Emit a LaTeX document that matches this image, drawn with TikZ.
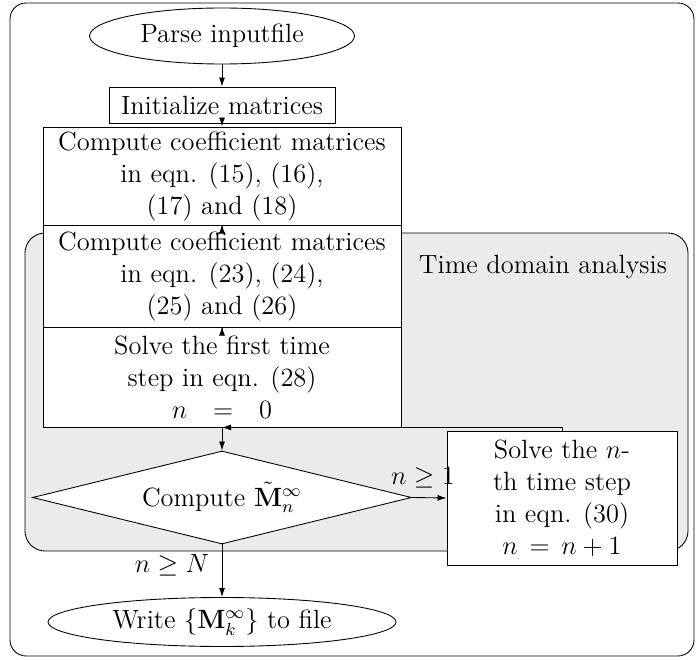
\RequirePackage{fix-cm}
\documentclass[tikz,border=0pt]{standalone}
\usepackage{amsmath,amssymb}
\usetikzlibrary{shapes.geometric,arrows.meta}
\begin{document}
\begin{tikzpicture}[x=1pt,y=-1pt]
\useasboundingbox (0,0) rectangle (696,660);
% the chart is laid out at 12pt and enlarged as a whole by 2.2
\begin{scope}[transform canvas={scale=2.2}, x=0.454545pt, y=-0.454545pt,
  every node/.style={font=\fontsize{12}{14.5}\selectfont, inner sep=0pt},
  box/.style={draw, fill=white, line width=0.4pt, align=center},
  term/.style={draw, ellipse, fill=white, line width=0.4pt},
  link/.style={-{Latex[length=4.1pt,width=2.7pt]}, line width=0.4pt}]
% outer frame and shaded loop region
\draw[line width=0.4pt, rounded corners=7.3pt] (10,3) rectangle (694,656);
\draw[line width=0.4pt, rounded corners=9.1pt, fill=black!8] (25,233) rectangle (688,551);
\node (tda) at (543,267) {Time domain analysis};

% flow nodes
\node[term, minimum width=120.45pt, minimum height=25.45pt] (parse) at (222,36) {Parse inputfile};
\node[box, minimum width=102.73pt, minimum height=16.36pt] (init) at (222,105) {Initialize matrices};
\node[box, minimum width=162.73pt, minimum height=45pt] (c1) at (222,176.5)
  {Compute coefficient matrices\\ in eqn. (15), (16),\\ (17) and (18)};
\node[box, minimum width=162.73pt, minimum height=46.82pt] (c2) at (222,276.5)
  {Compute coefficient matrices\\ in eqn. (23), (24),\\ (25) and (26)};
\node[box, minimum width=162.73pt, minimum height=45.45pt] (s1) at (222,377)
  {Solve the first time\\ step in eqn. (28)\\ $n\hspace{0.7em}=\hspace{0.7em}0$};
\node[draw, diamond, fill=white, line width=0.4pt, aspect=4.075,
  minimum width=172.27pt, minimum height=42.27pt] (comp) at (222,497.5)
  {Compute $\tilde{\mathbf{M}}_n^{\infty}$};
\node[box, minimum width=104.55pt, minimum height=60.91pt] (sn) at (562,498)
  {Solve the $n$-\\ th time step\\ in eqn. (30)\\ $n\,=\,n+1$};
\node[term, minimum width=158.18pt, minimum height=22.27pt] (write) at (222,622)
  {Write $\{\mathbf{M}_k^{\infty}\}$ to file};

% connectors
\draw[link] (parse) -- (init);
\draw[link] (init.south) -- (c1.north);
\draw[link] (c1.south) -- (c2.north);
\draw[link] (c2.south) -- (s1.north);
\draw[link] (s1.south) -- (comp.north);
\draw[link] (comp.east) -- (sn.west);
\draw[link] (sn.north) |- (s1.south);
\draw[link] (comp.south) -- (write.north);

% branch conditions
\node (ge1) at (423,478) {$n\geq 1$};
\node (geN) at (172,565) {$n\geq N$};
\end{scope}
\end{tikzpicture}
\end{document}
